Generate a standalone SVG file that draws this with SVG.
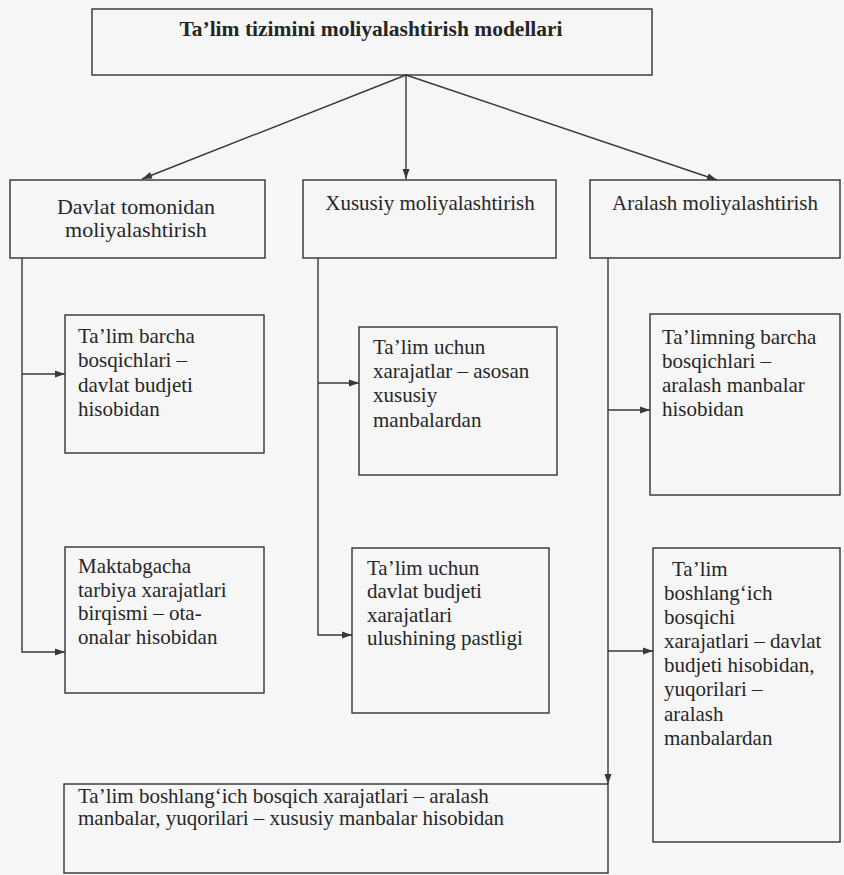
<svg xmlns="http://www.w3.org/2000/svg" width="844" height="875" viewBox="0 0 844 875">
<defs>
<style>
.box{fill:none;stroke:#333333;stroke-width:1.4}
.ln{fill:none;stroke:#383838;stroke-width:1.4}
.t{font-family:'Liberation Serif','DejaVu Serif',serif;font-size:21px;fill:#262626}
.title{font-weight:bold;font-size:21.5px}
.hd{font-size:22px}
.c{text-anchor:middle}
</style>
<marker id="ah" markerUnits="userSpaceOnUse" markerWidth="11" markerHeight="8" refX="10" refY="4" orient="auto">
<path d="M0,0.5 L10,4 L0,7.5 z" fill="#383838"/>
</marker>
</defs>
<rect x="0" y="0" width="844" height="875" fill="#f6f6f6"/>

<g id="connectors">
<line class="ln" x1="406" y1="75" x2="142" y2="179" marker-end="url(#ah)"/>
<line class="ln" x1="406" y1="75" x2="406" y2="179" marker-end="url(#ah)"/>
<line class="ln" x1="406" y1="75" x2="717" y2="180" marker-end="url(#ah)"/>
<path class="ln" d="M22,258 V652 H65" marker-end="url(#ah)"/>
<path class="ln" d="M22,374 H65" marker-end="url(#ah)"/>
<path class="ln" d="M318,258 V635 H352" marker-end="url(#ah)"/>
<path class="ln" d="M318,383 H359" marker-end="url(#ah)"/>
<path class="ln" d="M608,258 V784" marker-end="url(#ah)"/>
<path class="ln" d="M608,410 H650" marker-end="url(#ah)"/>
<path class="ln" d="M608,651 H653" marker-end="url(#ah)"/>
</g>

<g class="t" font-family="Liberation Serif, DejaVu Serif, serif">
<g id="root">
<rect class="box" x="92" y="9" width="560" height="66"/>
<text class="title c" x="371" y="36">Ta’lim tizimini moliyalashtirish modellari</text>
</g>

<g id="davlat">
<rect class="box" x="10" y="180" width="255" height="78"/>
<text class="c hd" x="136" y="214">Davlat tomonidan</text>
<text class="c hd" x="136" y="237">moliyalashtirish</text>
</g>

<g id="xususiy">
<rect class="box" x="303" y="180" width="253" height="78"/>
<text class="c" x="430" y="210">Xususiy moliyalashtirish</text>
</g>

<g id="aralash">
<rect class="box" x="590" y="180" width="250" height="78"/>
<text class="c" x="715" y="210">Aralash moliyalashtirish</text>
</g>

<g id="davlat-1">
<rect class="box" x="65" y="315" width="199" height="138"/>
<text x="78" y="343">Ta’lim barcha</text>
<text x="78" y="367">bosqichlari –</text>
<text x="78" y="392">davlat budjeti</text>
<text x="78" y="416">hisobidan</text>
</g>

<g id="davlat-2">
<rect class="box" x="65" y="547" width="199" height="146"/>
<text x="78" y="573">Maktabgacha</text>
<text x="78" y="597">tarbiya xarajatlari</text>
<text x="78" y="620">birqismi – ota-</text>
<text x="78" y="644">onalar hisobidan</text>
</g>

<g id="xususiy-1">
<rect class="box" x="359" y="327" width="198" height="148"/>
<text x="373" y="354">Ta’lim uchun</text>
<text x="373" y="378">xarajatlar – asosan</text>
<text x="373" y="402">xususiy</text>
<text x="373" y="427">manbalardan</text>
</g>

<g id="xususiy-2">
<rect class="box" x="352" y="548" width="197" height="165"/>
<text x="367" y="575">Ta’lim uchun</text>
<text x="367" y="598">davlat budjeti</text>
<text x="367" y="622">xarajatlari</text>
<text x="367" y="645">ulushining pastligi</text>
</g>

<g id="aralash-1">
<rect class="box" x="650" y="314" width="190" height="181"/>
<text x="662" y="344">Ta’limning barcha</text>
<text x="662" y="368">bosqichlari –</text>
<text x="662" y="392">aralash manbalar</text>
<text x="662" y="416">hisobidan</text>
</g>

<g id="aralash-2">
<rect class="box" x="653" y="548" width="187" height="294"/>
<text x="672" y="576">Ta’lim</text>
<text x="664" y="600">boshlang‘ich</text>
<text x="664" y="624">bosqichi</text>
<text x="664" y="648">xarajatlari – davlat</text>
<text x="664" y="672">budjeti hisobidan,</text>
<text x="664" y="696">yuqorilari –</text>
<text x="664" y="721">aralash</text>
<text x="664" y="745">manbalardan</text>
</g>

<g id="aralash-3">
<rect class="box" x="64" y="784" width="544" height="89"/>
<text x="78" y="803">Ta’lim boshlang‘ich bosqich xarajatlari – aralash</text>
<text x="78" y="825">manbalar, yuqorilari – xususiy manbalar hisobidan</text>
</g>
</g>
</svg>
